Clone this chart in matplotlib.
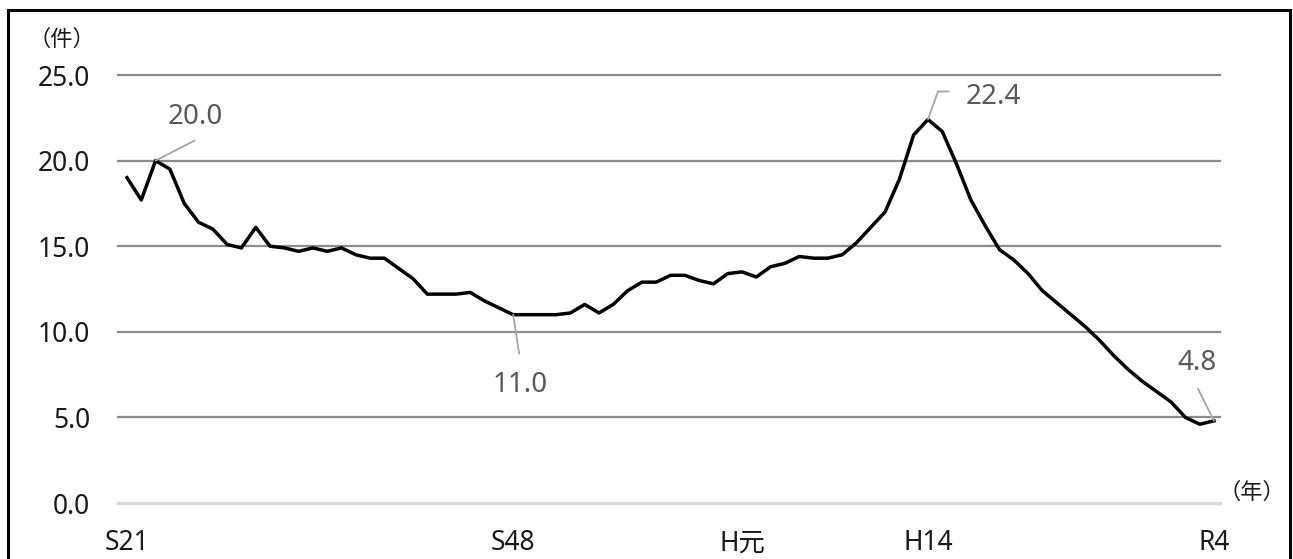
import numpy as np
import matplotlib.pyplot as plt
import matplotlib.transforms as mtransforms
from matplotlib.patches import Rectangle

plt.rcParams['font.family'] = ['Noto Sans', 'Noto Sans CJK JP']

# 件数の推移 (S21〜R4)
years = np.arange(1946, 2023)
cases = [19.0, 17.7, 20.0, 19.5, 17.5, 16.4, 16.0, 15.1, 14.9, 16.1,
         15.0, 14.9, 14.7, 14.9, 14.7, 14.9, 14.5, 14.3, 14.3, 13.7,
         13.1, 12.2, 12.2, 12.2, 12.3, 11.8, 11.4, 11.0, 11.0, 11.0,
         11.0, 11.1, 11.6, 11.1, 11.6, 12.4, 12.9, 12.9, 13.3, 13.3,
         13.0, 12.8, 13.4, 13.5, 13.2, 13.8, 14.0, 14.4, 14.3, 14.3,
         14.5, 15.2, 16.1, 17.0, 18.9, 21.5, 22.4, 21.7, 19.8, 17.7,
         16.2, 14.8, 14.2, 13.4, 12.4, 11.7, 11.0, 10.3, 9.5, 8.6,
         7.8, 7.1, 6.5, 5.9, 5.0, 4.6, 4.8]
tick_years = [1946, 1973, 1989, 2002, 2022]
tick_labels = ['S21', 'S48', 'H元', 'H14', 'R4']
y_ticks = [0, 5, 10, 15, 20, 25]
marked_years = [1948, 1973, 2002, 2022]

W, H = 1293, 559
fig = plt.figure(figsize=(W / 100, H / 100), dpi=100)
ax = fig.add_axes([118 / W, 1 - 503 / H, (1220 - 118) / W, (503 - 75) / H])

ppy = (1214 - 127) / 76  # pixels per year
ax.set_xlim(1946 - 9 / ppy, 2022 + 6 / ppy)
ax.set_ylim(0, 25)

ax.plot(years, cases, color='black', lw=2.5, solid_joinstyle='round',
        zorder=3, clip_on=False)

ax.set_yticks(y_ticks)
ax.set_yticklabels([f'{v:.1f}' for v in y_ticks])
ax.set_xticks(tick_years)
ax.set_xticklabels(tick_labels)
ax.yaxis.grid(True, color='#8c8c8c', lw=1.6)
ax.xaxis.grid(False)
gls = ax.get_ygridlines()
for gl in gls:
    gl.set_clip_on(False)
gls[0].set_color('#d9d9d9')
gls[0].set_linewidth(2.4)
for s in ax.spines.values():
    s.set_visible(False)
ax.tick_params(length=0, labelsize=19, labelcolor='#1a1a1a')
ax.tick_params(axis='y', pad=20)
ax.tick_params(axis='x', pad=19)

# ラベルと引き出し線 (pixel offsets)
lead_ends = {1948: (39, 20), 1973: (6, -39), 2002: (10, 28), 2022: (-16, 32)}
label_pos = {1948: (40, 44), 1973: (7, -70), 2002: (65, 23), 2022: (-17, 58)}
lead_kw = dict(arrowstyle='-', color='#a6a6a6', lw=1.3, shrinkA=0, shrinkB=0)
for yr in marked_years:
    val = cases[yr - 1946]
    ax.annotate('', xy=(yr, val), xytext=lead_ends[yr],
                textcoords='offset pixels', arrowprops=lead_kw,
                annotation_clip=False)
    ax.annotate(f'{val:.1f}', xy=(yr, val), xytext=label_pos[yr],
                textcoords='offset pixels', ha='center', va='center',
                fontsize=20, color='#595959', annotation_clip=False)
    if yr == 2002:
        bend = mtransforms.offset_copy(ax.transData, fig=fig, x=10, y=28,
                                       units='dots')
        ax.annotate('', xy=(yr, val), xycoords=bend, xytext=(11, 0),
                    textcoords='offset pixels', arrowprops=lead_kw,
                    annotation_clip=False)

fig.text(62 / W, 1 - 40 / H, '（件）', fontsize=16, ha='center', va='center',
         color='#1a1a1a')
fig.text(1252 / W, 1 - 493 / H, '（年）', fontsize=16, ha='center',
         va='center', color='#1a1a1a')

fig.patches.append(Rectangle((8 / W, -0.05), (1290 - 8) / W,
                             1 - 10 / H + 0.05, transform=fig.transFigure,
                             fill=False, lw=2.2, ec='black'))

fig.savefig('out.png', dpi=100)
